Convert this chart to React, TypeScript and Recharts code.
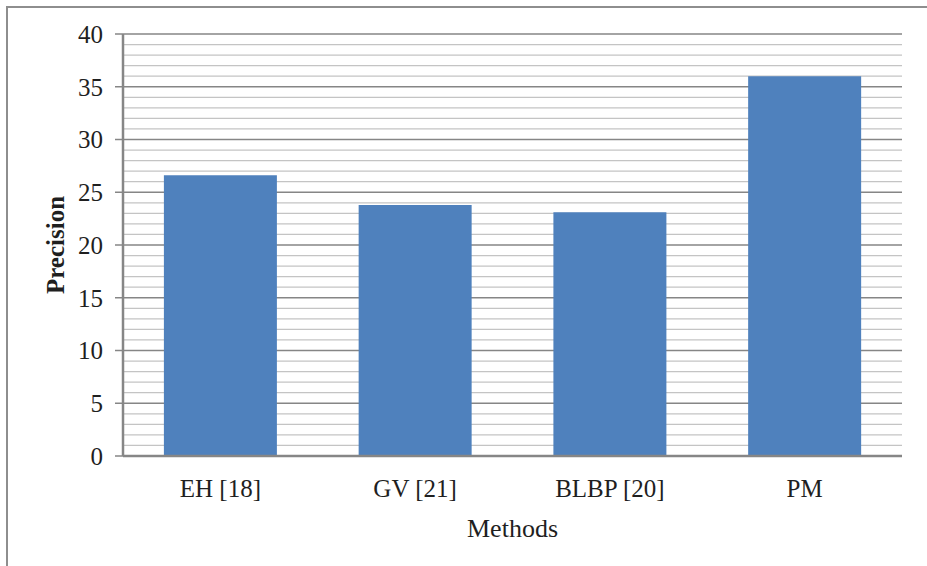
import React from "react";
import {
  BarChart,
  Bar,
  XAxis,
  YAxis,
  CartesianGrid,
} from "recharts";

// Precision per method
const methods = ["EH [18]", "GV [21]", "BLBP [20]", "PM"];
const precision = [26.6, 23.8, 23.1, 36.0];

// Axis ticks: labelled every 5, light guide lines every 1
const majorTicks = [0, 5, 10, 15, 20, 25, 30, 35, 40];
const minorTicks = [
  1, 2, 3, 4, 6, 7, 8, 9, 11, 12, 13, 14, 16, 17, 18, 19, 21, 22, 23, 24, 26,
  27, 28, 29, 31, 32, 33, 34, 36, 37, 38, 39,
];

const data = methods.map((name, i) => ({ name, value: precision[i] }));

const FONT = "Liberation Serif, Tinos, Times New Roman, Times, serif";
const AXIS_GRAY = "#868686";
const TEXT = "#1f1f1f";
const FONT_SIZE = 25;

export default function App() {
  return (
    <div
      style={{
        position: "absolute",
        left: 0,
        top: 0,
        width: 927,
        height: 566,
        overflow: "hidden",
        background: "#ffffff",
        fontFamily: FONT,
      }}
    >
      {/* chart frame */}
      <div
        style={{
          position: "absolute",
          left: 6,
          top: 6,
          width: 1200,
          height: 1200,
          border: "2px solid #8e8e8e",
        }}
      />
      <div style={{ position: "absolute", left: 0, top: 0 }}>
        <BarChart
          width={927}
          height={566}
          data={data}
          margin={{ top: 34, right: 25, bottom: 0, left: 0 }}
          barCategoryGap="21%"
          style={{ fontFamily: FONT }}
        >
          <CartesianGrid
            vertical={false}
            horizontalValues={minorTicks}
            stroke="#c4c4c4"
            strokeWidth={1.2}
          />
          <CartesianGrid
            vertical={false}
            horizontalValues={majorTicks}
            stroke={AXIS_GRAY}
            strokeWidth={1.4}
          />
          <XAxis
            dataKey="name"
            height={110}
            tickSize={0}
            tickMargin={23}
            axisLine={{ stroke: AXIS_GRAY, strokeWidth: 2.5 }}
            tick={{ fill: TEXT, fontSize: FONT_SIZE, fontFamily: FONT }}
            label={{
              value: "Methods",
              position: "insideBottom",
              offset: 29,
              style: { fill: TEXT, fontSize: 26, fontFamily: FONT },
            }}
          />
          <YAxis
            width={123}
            domain={[0, 40]}
            ticks={majorTicks}
            interval={0}
            tickSize={8}
            tickMargin={12}
            axisLine={{ stroke: AXIS_GRAY, strokeWidth: 2.5 }}
            tickLine={{ stroke: AXIS_GRAY, strokeWidth: 1.5 }}
            tick={{ fill: TEXT, fontSize: FONT_SIZE, fontFamily: FONT }}
            label={{
              value: "Precision",
              angle: -90,
              position: "insideLeft",
              offset: 55,
              style: {
                fill: TEXT,
                fontSize: FONT_SIZE,
                fontWeight: "bold",
                fontFamily: FONT,
                textAnchor: "middle",
              },
            }}
          />
          <Bar dataKey="value" fill="#4f81bd" isAnimationActive={false} />
        </BarChart>
      </div>
    </div>
  );
}
